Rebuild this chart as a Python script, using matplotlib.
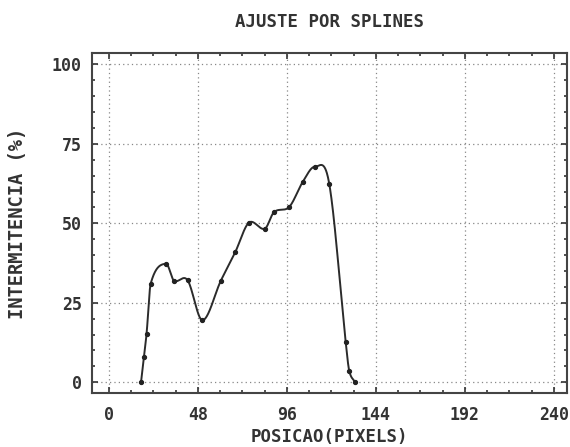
import numpy as np
import matplotlib
matplotlib.use("Agg")
import matplotlib.pyplot as plt
from matplotlib.ticker import MultipleLocator

# measured points (position in pixels, intermittency in %)
posicao = [17.3, 18.9, 20.3, 22.5, 30.8, 35.0, 42.4, 50.4, 60.4, 68.1,
           75.5, 84.1, 89.0, 97.3, 104.5, 111.1, 118.8, 127.7, 129.6, 132.7]
intermitencia = [0.0, 8.0, 15.3, 31.0, 37.3, 32.0, 32.1, 19.5, 32.0, 40.9,
                 50.2, 48.3, 53.5, 55.2, 63.0, 67.8, 62.5, 12.6, 3.6, 0.0]

x_ticks = [0, 48, 96, 144, 192, 240]
y_ticks = [0, 25, 50, 75, 100]


def hermite_spline(x, y, xs):
    # cubic hermite curve with central-difference (catmull-rom style) tangents
    x = np.asarray(x, float)
    y = np.asarray(y, float)
    n = len(x)
    m = np.empty(n)
    m[1:-1] = (y[2:] - y[:-2]) / (x[2:] - x[:-2])
    m[0] = (y[1] - y[0]) / (x[1] - x[0])
    m[-1] = (y[-1] - y[-2]) / (x[-1] - x[-2])
    k = np.clip(np.searchsorted(x, xs) - 1, 0, n - 2)
    h = x[k + 1] - x[k]
    t = (xs - x[k]) / h
    h00 = 2 * t ** 3 - 3 * t ** 2 + 1
    h10 = t ** 3 - 2 * t ** 2 + t
    h01 = -2 * t ** 3 + 3 * t ** 2
    h11 = t ** 3 - t ** 2
    return h00 * y[k] + h10 * h * m[k] + h01 * y[k + 1] + h11 * h * m[k + 1]


mono = {"family": "DejaVu Sans Mono", "weight": "bold", "color": "#333333"}

fig = plt.figure(figsize=(5.70, 4.47), dpi=100)
ax = fig.add_axes([0.1609, 0.1201, 0.8333, 0.7607])

xs = np.linspace(posicao[0], posicao[-1], 800)
ax.plot(xs, hermite_spline(posicao, intermitencia, xs), color="#2b2b2b", lw=1.4)
ax.plot(posicao, intermitencia, "o", color="#222222", ms=2.8)

ax.set_xlim(-9.3, 246.9)
ax.set_ylim(-3.5, 103.5)
ax.set_xticks(x_ticks)
ax.set_yticks(y_ticks)
ax.xaxis.set_minor_locator(MultipleLocator(12))
ax.yaxis.set_minor_locator(MultipleLocator(5))
ax.tick_params(which="both", direction="in", top=True, right=True,
               color="#333333", width=1.2)
ax.tick_params(which="major", length=4)
ax.tick_params(which="minor", length=2.2)
ax.tick_params(axis="x", pad=9)
ax.tick_params(axis="y", pad=7)
for lab in ax.get_xticklabels() + ax.get_yticklabels():
    lab.set_fontfamily("DejaVu Sans Mono")
    lab.set_fontweight("bold")
    lab.set_fontsize(12)
    lab.set_color("#333333")

ax.grid(True, which="major", linestyle=(0, (1, 2.5)), color="#888888", lw=0.9)
for s in ax.spines.values():
    s.set_linewidth(1.5)
    s.set_color("#444444")

ax.set_title("AJUSTE POR SPLINES", fontsize=12.5, pad=19, **mono)
ax.set_xlabel("POSICAO(PIXELS)", fontsize=12.5, labelpad=3, **mono)
ax.set_ylabel("INTERMITENCIA (%)", fontsize=13.5, labelpad=18, **mono)

fig.savefig("out.png", dpi=100)
